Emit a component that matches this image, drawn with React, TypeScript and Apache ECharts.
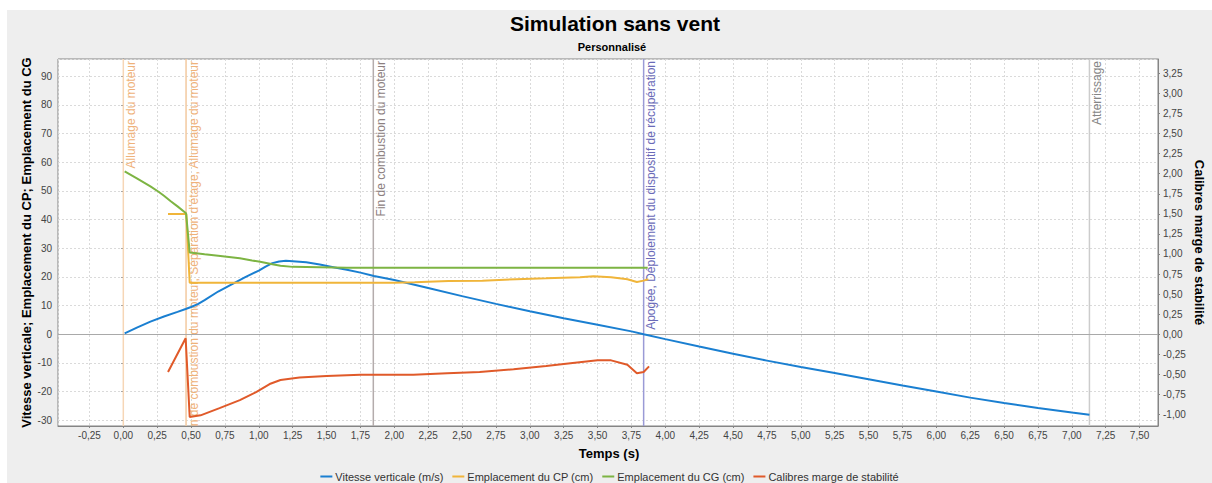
import React, { useEffect, useRef } from "react";
import * as echarts from "echarts";

// ---- Data ----
const vitesseT = [0.01, 0.1, 0.2, 0.3, 0.4, 0.46, 0.5, 0.55, 0.6, 0.7, 0.8, 0.9, 1.0, 1.05, 1.1, 1.15, 1.2, 1.25, 1.35, 1.45, 1.55, 1.65, 1.75, 1.85, 2.0, 2.25, 2.5, 2.75, 3.0, 3.25, 3.5, 3.75, 3.84, 4.0, 4.25, 4.5, 4.75, 5.0, 5.25, 5.5, 5.75, 6.0, 6.25, 6.5, 6.75, 7.0, 7.13];
const vitesseV = [0.3, 2.3, 4.4, 6.2, 7.8, 8.8, 9.5, 10.5, 11.9, 14.9, 17.4, 19.9, 22.2, 23.6, 24.8, 25.4, 25.6, 25.5, 25.1, 24.3, 23.4, 22.5, 21.5, 20.3, 18.9, 16.1, 13.3, 10.6, 8.0, 5.6, 3.3, 1.0, 0.0, -1.7, -4.3, -6.8, -9.2, -11.4, -13.5, -15.7, -17.9, -20.0, -22.1, -24.0, -25.7, -27.3, -28.1];

const cpT = [0.33, 0.465, 0.49, 1.0, 1.5, 2.0, 2.15, 2.4, 2.65, 2.9, 3.12, 3.37, 3.47, 3.6, 3.72, 3.79, 3.84, 3.875];
const cpV = [41.9, 41.9, 18.0, 18.0, 18.0, 18.0, 18.1, 18.6, 18.7, 19.2, 19.5, 19.9, 20.2, 19.9, 19.2, 18.2, 18.7, 19.2];

const cgT = [0.01, 0.1, 0.2, 0.26, 0.3, 0.35, 0.4, 0.463, 0.49, 0.6, 0.7, 0.86, 0.95, 1.01, 1.1, 1.16, 1.25, 1.45, 1.65, 2.0, 3.0, 3.87];
const cgV = [56.8, 54.4, 51.6, 49.7, 48.3, 46.4, 44.6, 42.2, 28.5, 27.9, 27.4, 26.5, 25.7, 25.3, 24.4, 23.9, 23.5, 23.4, 23.2, 23.2, 23.2, 23.2];

const stabT = [0.33, 0.46, 0.49, 0.57, 0.71, 0.86, 0.98, 1.08, 1.16, 1.3, 1.5, 1.75, 2.14, 2.39, 2.63, 2.88, 3.12, 3.3, 3.5, 3.6, 3.72, 3.79, 3.84, 3.88];
const stabV = [-0.47, -0.05, -1.03, -1.01, -0.92, -0.82, -0.72, -0.62, -0.57, -0.54, -0.52, -0.505, -0.505, -0.485, -0.47, -0.435, -0.395, -0.36, -0.325, -0.325, -0.38, -0.485, -0.47, -0.4];

const seriesNames = ["Vitesse verticale (m/s)", "Emplacement du CP (cm)", "Emplacement du CG (cm)", "Calibres marge de stabilité"];
const seriesColors = ["#1a7fd1", "#f0b53a", "#7db443", "#e05a2a"];

const eventTimes = [0, 0.463, 1.845, 3.84, 7.13];
const eventLabels = [
  "Allumage du moteur",
  "Fin de combustion du moteur, Séparation d'étage, Allumage du moteur",
  "Fin de combustion du moteur",
  "Apogée, Déploiement du dispositif de récupération",
  "Atterrissage",
];
const eventLineColors = ["#f6d6b6", "#f3c9a0", "#b4acac", "#9a9ad6", "#cccccc"];
const eventTextColors = ["#efb27a", "#efb27a", "#8c8080", "#6a6ab8", "#858585"];

const FONT = '"Liberation Sans", Arial, sans-serif';

const zip = (t: number[], v: number[]) => t.map((x, i) => [x, v[i]]);
const fmt2 = (v: number) => v.toFixed(2).replace(".", ",");

export default function App() {
  const ref = useRef<HTMLDivElement>(null);
  useEffect(() => {
    if (!ref.current) return;
    const chart = echarts.init(ref.current, undefined, { renderer: "svg" });
    const axisLineStyle = { color: "#858585", width: 1 };
    const option: any = {
      animation: false,
      backgroundColor: "#eeeeee",
      textStyle: { fontFamily: FONT },
      grid: {
        left: 51, top: 49, width: 1100, height: 367,
        show: true, backgroundColor: "#ffffff", borderColor: "#858585", borderWidth: 1,
      },
      legend: {
        data: seriesNames,
        top: 461,
        left: "center",
        padding: 0,
        icon: "rect",
        itemWidth: 12,
        itemHeight: 2,
        itemGap: 9,
        textStyle: { fontFamily: FONT, fontSize: 11, color: "#333333", padding: [0, 0, 0, -2] },
      },
      xAxis: {
        type: "value",
        min: -0.482,
        max: 7.636,
        minInterval: 0.25,
        maxInterval: 0.25,
        axisLine: { show: true, onZero: false, lineStyle: axisLineStyle },
        axisTick: { show: true, length: 2, lineStyle: axisLineStyle },
        axisLabel: {
          showMinLabel: false, showMaxLabel: false, margin: 4,
          fontFamily: FONT, fontSize: 10, color: "#444444",
          formatter: (v: number) => fmt2(v),
        },
        splitLine: { show: true, lineStyle: { color: "#dadada", type: [2, 2], width: 1 } },
      },
      yAxis: [
        {
          type: "value",
          position: "left",
          min: -32,
          max: 96,
          minInterval: 10,
          maxInterval: 10,
          axisLine: { show: true, lineStyle: axisLineStyle },
          axisTick: { show: true, length: 2, lineStyle: axisLineStyle },
          axisLabel: {
            showMinLabel: false, showMaxLabel: false, margin: 6,
            fontFamily: FONT, fontSize: 10, color: "#444444",
            formatter: (v: number) => String(Math.round(v)),
          },
          splitLine: { show: true, lineStyle: { color: "#dadada", type: [2, 2], width: 1 } },
        },
        {
          type: "value",
          position: "right",
          min: -32 / 28,
          max: 96 / 28,
          minInterval: 0.25,
          maxInterval: 0.25,
          axisLine: { show: true, lineStyle: axisLineStyle },
          axisTick: { show: true, length: 2, lineStyle: axisLineStyle },
          axisLabel: {
            showMinLabel: false, showMaxLabel: false, margin: 5,
            fontFamily: FONT, fontSize: 10, color: "#444444",
            formatter: (v: number) => fmt2(v),
          },
          splitLine: { show: false },
        },
      ],
      graphic: [
        {
          type: "text", x: 608, y: 13.5, silent: true,
          style: { text: "Simulation sans vent", fill: "#000", font: `bold 21px ${FONT}`, align: "center", verticalAlign: "middle" },
        },
        {
          type: "text", x: 605, y: 37, silent: true,
          style: { text: "Personnalisé", fill: "#000", font: `bold 11px ${FONT}`, align: "center", verticalAlign: "middle" },
        },
        {
          type: "text", x: 602, y: 443, silent: true,
          style: { text: "Temps (s)", fill: "#000", font: `bold 13px ${FONT}`, align: "center", verticalAlign: "middle" },
        },
        {
          type: "text", x: 19, y: 232.5, rotation: Math.PI / 2, silent: true,
          style: { text: "Vitesse verticale; Emplacement du CP; Emplacement du CG", fill: "#000", font: `bold 13px ${FONT}`, align: "center", verticalAlign: "middle" },
        },
        {
          type: "text", x: 1192.5, y: 232.5, rotation: -Math.PI / 2, silent: true,
          style: { text: "Calibres marge de stabilité", fill: "#000", font: `bold 13px ${FONT}`, align: "center", verticalAlign: "middle" },
        },
      ],
      series: [
        {
          type: "custom",
          name: "events",
          xAxisIndex: 0,
          yAxisIndex: 0,
          clip: true,
          silent: true,
          z: 1,
          data: eventTimes.map((t) => [t]),
          encode: { x: 0 },
          renderItem: (params: any, api: any) => {
            const idx = params.dataIndex;
            const x = api.coord([api.value(0), 0])[0];
            const cs = params.coordSys;
            return {
              type: "group",
              children: [
                {
                  type: "line",
                  shape: { x1: x, y1: cs.y, x2: x, y2: cs.y + cs.height },
                  style: { stroke: eventLineColors[idx], lineWidth: 1.5 },
                },
                {
                  type: "text",
                  x: x + 1.5,
                  y: cs.y + 2,
                  rotation: Math.PI / 2,
                  style: {
                    text: eventLabels[idx],
                    fill: eventTextColors[idx],
                    font: `12px ${FONT}`,
                    align: "right",
                    verticalAlign: "top",
                  },
                },
              ],
            };
          },
        },
        {
          type: "line",
          name: seriesNames[0],
          yAxisIndex: 0,
          data: zip(vitesseT, vitesseV),
          showSymbol: false,
          color: seriesColors[0],
          lineStyle: { width: 2, color: seriesColors[0] },
          z: 3,
          markLine: {
            silent: true,
            symbol: ["none", "none"],
            label: { show: false },
            lineStyle: { color: "#a9a9a9", type: "solid", width: 1 },
            data: [{ yAxis: 0 }],
            z: 2,
          },
        },
        {
          type: "line",
          name: seriesNames[1],
          yAxisIndex: 0,
          data: zip(cpT, cpV),
          showSymbol: false,
          color: seriesColors[1],
          lineStyle: { width: 2, color: seriesColors[1] },
          z: 3,
        },
        {
          type: "line",
          name: seriesNames[2],
          yAxisIndex: 0,
          data: zip(cgT, cgV),
          showSymbol: false,
          color: seriesColors[2],
          lineStyle: { width: 2, color: seriesColors[2] },
          z: 3,
        },
        {
          type: "line",
          name: seriesNames[3],
          yAxisIndex: 1,
          data: zip(stabT, stabV),
          showSymbol: false,
          color: seriesColors[3],
          lineStyle: { width: 2, color: seriesColors[3] },
          z: 3,
        },
      ],
    };
    chart.setOption(option);
    return () => chart.dispose();
  }, []);
  return (
    <div
      ref={ref}
      style={{ position: "absolute", left: 7, top: 10, width: 1205, height: 473, background: "#eeeeee" }}
    />
  );
}
